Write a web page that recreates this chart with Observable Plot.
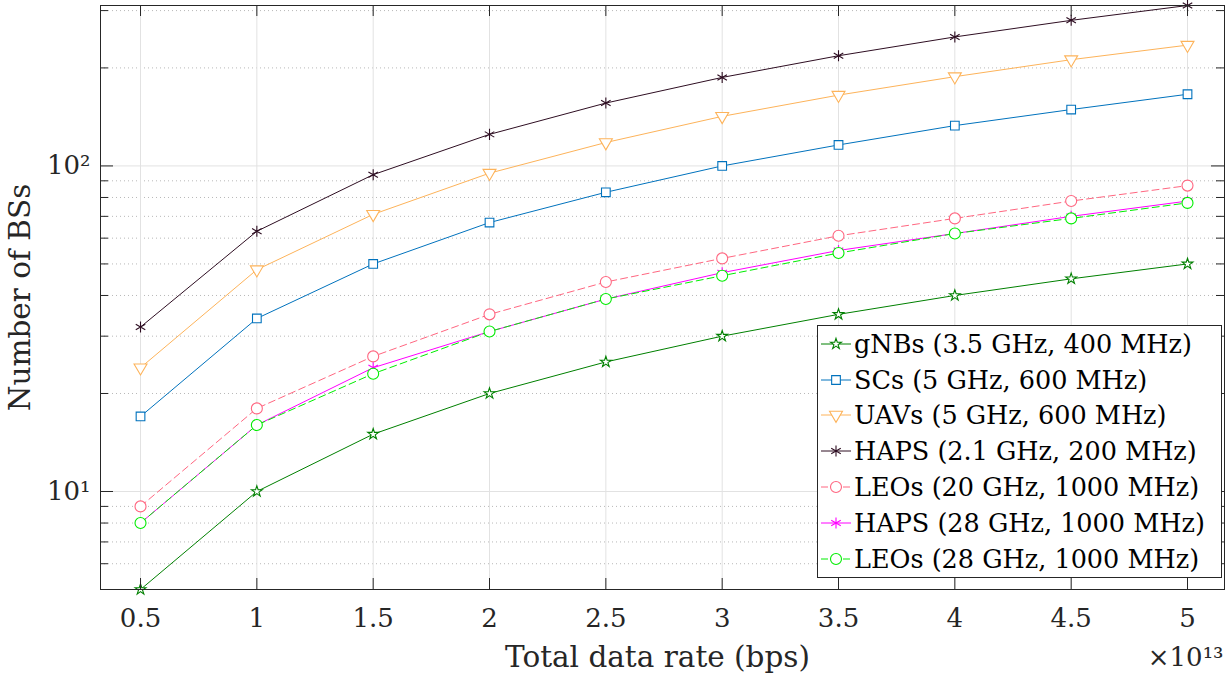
<!DOCTYPE html>
<html><head><meta charset="utf-8">
<script src="https://cdn.jsdelivr.net/npm/d3@7"></script>
<script src="https://cdn.jsdelivr.net/npm/@observablehq/plot@0.6"></script>
<style>
body{margin:0;background:#fff;}
#wrap{position:relative;width:1226px;height:675px;font-family:"DejaVu Serif",serif;}
#legend{position:absolute;left:817px;top:325px;width:405px;height:253px;border:1px solid #262626;background:#fff;box-sizing:border-box;padding-top:0px;}
.row{display:flex;align-items:center;height:35.8px;font-size:25.5px;white-space:nowrap;color:#000;font-family:"DejaVu Serif",serif;}
.row svg{flex:none;}
</style></head><body><div id="wrap"></div>
<script>
// ---- data ----
const rates = [0.5, 1, 1.5, 2, 2.5, 3, 3.5, 4, 4.5, 5]; // ×10^13 bps
const gNBs   = [5, 10, 15, 20, 25, 30, 35, 40, 45, 50];
const SCs    = [17, 34, 50, 67, 83, 100, 116, 133, 149, 166];
const UAVs   = [24, 48, 71, 95, 118, 142, 165, 188, 212, 235];
const HAPS21 = [32, 63, 94, 125, 156, 187, 218, 249, 280, 311];
const LEOs20 = [9, 18, 26, 35, 44, 52, 61, 69, 78, 87];
const HAPS28 = [8, 16, 24, 31, 39, 47, 55, 62, 70, 78];
const LEOs28 = [8, 16, 23, 31, 39, 46, 54, 62, 69, 77];
const seriesNames = [
  "gNBs (3.5 GHz, 400 MHz)",
  "SCs (5 GHz, 600 MHz)",
  "UAVs (5 GHz, 600 MHz)",
  "HAPS (2.1 GHz, 200 MHz)",
  "LEOs (20 GHz, 1000 MHz)",
  "HAPS (28 GHz, 1000 MHz)",
  "LEOs (28 GHz, 1000 MHz)"
];
const seriesValues = [gNBs, SCs, UAVs, HAPS21, LEOs20, HAPS28, LEOs28];
const xTicks = [0.5, 1, 1.5, 2, 2.5, 3, 3.5, 4, 4.5, 5];
const yMajor = [10, 100];
const yMajorLabels = ["10¹", "10²"];
const yMinor = [6, 7, 8, 9, 20, 30, 40, 50, 60, 70, 80, 90, 200, 300];
const xLabel = "Total data rate (bps)";
const yLabel = "Number of BSs";
const xExponent = "×10¹³";

// ---- styles ----
const FONT = "'DejaVu Serif', serif";
const triangleDown = {
  draw(ctx, size) {
    const r = Math.sqrt(size / Math.PI);
    const w = r * 1.2;
    ctx.moveTo(-w, -r * 0.7);
    ctx.lineTo(w, -r * 0.7);
    ctx.lineTo(0, r * 1.35);
    ctx.closePath();
  }
};
const styles = [
  {color: "#008000", symbol: d3.symbolStar, r: 3.4, dash: null},
  {color: "#0072BD", symbol: d3.symbolSquare, r: 4.9, dash: null},
  {color: "#FDB35A", symbol: triangleDown, r: 5.4, dash: null},
  {color: "#2E0E22", symbol: d3.symbolAsterisk, r: 5.2, dash: null},
  {color: "#FF6680", symbol: d3.symbolCircle, r: 5.5, dash: "7,4"},
  {color: "#FF00FF", symbol: d3.symbolAsterisk, r: 5.2, dash: null},
  {color: "#00EE00", symbol: d3.symbolCircle, r: 5.5, dash: "7,4"}
];

const W = 1226, H = 675, mL = 100, mR = 2, mT = 5, mB = 86;
const pw = W - mL - mR, ph = H - mT - mB;

const rows = seriesValues.flatMap((vals, k) => rates.map((x, j) => ({x, y: vals[j], k})));

const seriesMarks = seriesValues.flatMap((vals, k) => {
  const d = rows.filter(r => r.k === k);
  const s = styles[k];
  return [
    Plot.line(d, {x: "x", y: "y", stroke: s.color, strokeWidth: 1, strokeDasharray: s.dash}),
    Plot.dot(d, {x: "x", y: "y", symbol: s.symbol, r: s.r, stroke: s.color, fill: "white", strokeWidth: 1.1})
  ];
});

const chart = Plot.plot({
  width: W, height: H,
  marginLeft: mL, marginRight: mR, marginTop: mT, marginBottom: mB,
  style: {fontFamily: FONT, color: "#262626", background: "white", overflow: "visible"},
  x: {domain: [0.328, 5.159]},
  y: {type: "log", domain: [5, 311]},
  marks: [
    Plot.gridY(yMinor, {stroke: "#9a9a9a", strokeOpacity: 0.7, strokeDasharray: "1,3"}),
    Plot.gridY(yMajor, {stroke: "#e2e2e2", strokeOpacity: 1}),
    Plot.gridX(xTicks, {stroke: "#e2e2e2", strokeOpacity: 1}),
    ...seriesMarks,
    Plot.tickX(xTicks, {x: d => d, insetTop: ph - 11, stroke: "#262626"}),
    Plot.tickX(xTicks, {x: d => d, insetBottom: ph - 11, stroke: "#262626"}),
    Plot.tickY(yMajor, {y: d => d, insetRight: pw - 13, stroke: "#262626"}),
    Plot.tickY(yMajor, {y: d => d, insetLeft: pw - 13, stroke: "#262626"}),
    Plot.tickY(yMinor, {y: d => d, insetRight: pw - 8, stroke: "#262626"}),
    Plot.tickY(yMinor, {y: d => d, insetLeft: pw - 8, stroke: "#262626"}),
    Plot.frame({stroke: "#262626"}),
    Plot.axisX(xTicks, {tickSize: 0, tickPadding: 19, fontSize: 26, fontFamily: FONT, tickFormat: d => String(d), label: null}),
    Plot.axisY(yMajor, {tickSize: 0, tickPadding: 10, fontSize: 26, fontFamily: FONT, tickFormat: d => yMajorLabels[yMajor.indexOf(d)], label: null}),
    Plot.text([xLabel], {text: d => d, frameAnchor: "bottom", lineAnchor: "middle", textAnchor: "middle", dx: -5, dy: 68, fontSize: 29.5, fontFamily: FONT, fill: "#262626"}),
    Plot.text([yLabel], {text: d => d, frameAnchor: "left", lineAnchor: "middle", textAnchor: "middle", rotate: -90, dx: -80, fontSize: 29.5, fontFamily: FONT, fill: "#262626"}),
    Plot.text([xExponent], {text: d => d, frameAnchor: "bottom-right", lineAnchor: "middle", textAnchor: "end", dx: -1, dy: 68, fontSize: 26, fontFamily: FONT, fill: "#262626"})
  ]
});

const wrap = document.getElementById("wrap");
wrap.appendChild(chart);

// ---- legend ----
const legend = document.createElement("div");
legend.id = "legend";
seriesNames.forEach((name, k) => {
  const s = styles[k];
  const row = document.createElement("div");
  row.className = "row";
  const sym = d3.symbol(s.symbol, Math.PI * s.r * s.r)();
  row.innerHTML = `<svg width="36" height="30" viewBox="0 0 36 30">
    <line x1="3" x2="33" y1="15" y2="15" stroke="${s.color}" stroke-width="1" ${s.dash ? `stroke-dasharray="${s.dash}"` : ""}/>
    <path d="${sym}" transform="translate(18,15)" stroke="${s.color}" fill="white" stroke-width="1.1"/>
  </svg><span>${name}</span>`;
  legend.appendChild(row);
});
wrap.appendChild(legend);
</script>
</body></html>
